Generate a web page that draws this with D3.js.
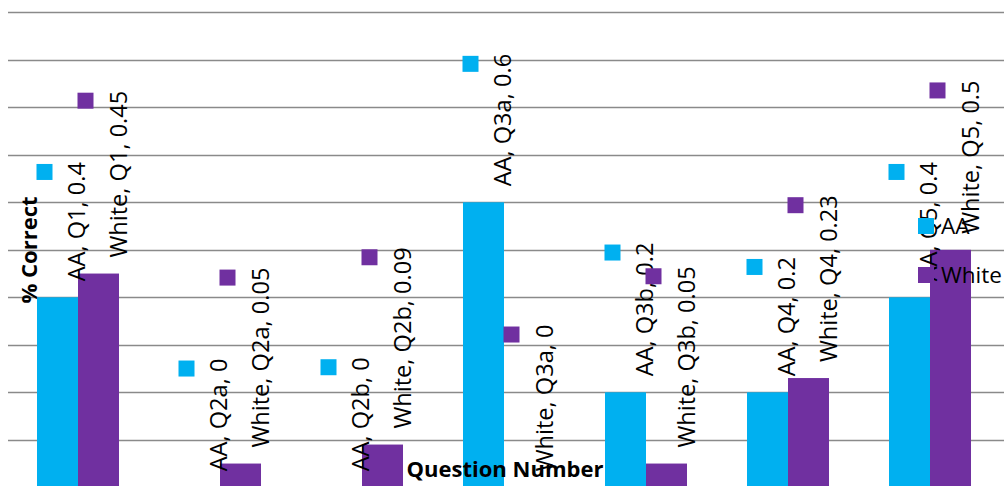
<!DOCTYPE html>
<html>
<head>
<meta charset="utf-8">
<script src="https://cdn.jsdelivr.net/npm/d3@7"></script>
<style>
  body { margin: 0; background: #fff; }
  svg { display: block; font-family: "Open Sans", sans-serif; }
</style>
</head>
<body>
<div id="chart"></div>
<script>
const categories = ["Q1", "Q2a", "Q2b", "Q3a", "Q3b", "Q4", "Q5"];
const seriesNames = ["AA", "White"];
const aaValues = [0.4, 0, 0, 0.6, 0.2, 0.2, 0.4];
const whiteValues = [0.45, 0.05, 0.09, 0, 0.05, 0.23, 0.5];
const colors = ["#00B0F0", "#7030A0"];

const width = 1004;
const height = 486;

const svg = d3.select("#chart")
    .append("svg")
    .attr("width", width)
    .attr("height", height);

const x0 = d3.scaleBand()
    .domain(categories)
    .range([7, 1001])
    .paddingInner(0.4225)
    .paddingOuter(0.21125);

const x1 = d3.scaleBand()
    .domain(seriesNames)
    .range([0, x0.bandwidth()]);

const y = d3.scaleLinear()
    .domain([0, 1])
    .range([487.3, 12.3]);

const color = d3.scaleOrdinal().domain(seriesNames).range(colors);

// one row per bar
const rows = [];
categories.forEach((c, i) => {
    rows.push({ series: "AA", cat: c, value: aaValues[i] });
    rows.push({ series: "White", cat: c, value: whiteValues[i] });
});

// gridlines
svg.append("g")
    .selectAll("line")
    .data(y.ticks(10).filter(t => t > 0))
    .join("line")
    .attr("x1", 8)
    .attr("x2", width)
    .attr("y1", d => Math.round(y(d)) + 0.5)
    .attr("y2", d => Math.round(y(d)) + 0.5)
    .attr("stroke", "#8a8a8a")
    .attr("stroke-width", 1.6);

// bars
svg.append("g")
    .selectAll("rect")
    .data(rows)
    .join("rect")
    .attr("x", d => x0(d.cat) + x1(d.series))
    .attr("y", d => y(d.value))
    .attr("width", x1.bandwidth())
    .attr("height", d => y(0) - y(d.value))
    .attr("fill", d => color(d.series));

// axis titles
svg.append("text")
    .attr("transform", "translate(37,250) rotate(-90)")
    .attr("text-anchor", "middle")
    .style("font-size", "22px")
    .style("font-weight", 700)
    .text("% Correct");

svg.append("text")
    .attr("x", 505)
    .attr("y", 477)
    .attr("text-anchor", "middle")
    .style("font-size", "22px")
    .style("font-weight", 700)
    .text("Question Number");

// data labels with legend keys
const labels = svg.append("g")
    .selectAll("g")
    .data(rows)
    .join("g");

labels.each(function (d) {
    const g = d3.select(this);
    const cx = x0(d.cat) + x1(d.series) + x1.bandwidth() / 2;
    const startY = y(d.value) - 16;
    const t = g.append("text")
        .attr("transform", `translate(${cx + 28},${startY}) rotate(-90)`)
        .style("font-size", "23.6px")
        .attr("fill", "#000")
        .text(`${d.series}, ${d.cat}, ${d.value}`);
    const len = t.node().getComputedTextLength();
    g.append("rect")
        .attr("x", cx - 13 - 8)
        .attr("y", startY - len + 10 - 8)
        .attr("width", 16)
        .attr("height", 16)
        .attr("fill", color(d.series));
});

// legend
const legend = svg.append("g")
    .attr("transform", "translate(918,218)");

legend.selectAll("rect")
    .data(seriesNames)
    .join("rect")
    .attr("x", 0)
    .attr("y", (d, i) => i * 49)
    .attr("width", 16)
    .attr("height", 16)
    .attr("fill", d => color(d));

legend.selectAll("text")
    .data(seriesNames)
    .join("text")
    .attr("x", 23)
    .attr("y", (d, i) => i * 49 + 16)
    .style("font-size", "22.5px")
    .text(d => d);
</script>
</body>
</html>
